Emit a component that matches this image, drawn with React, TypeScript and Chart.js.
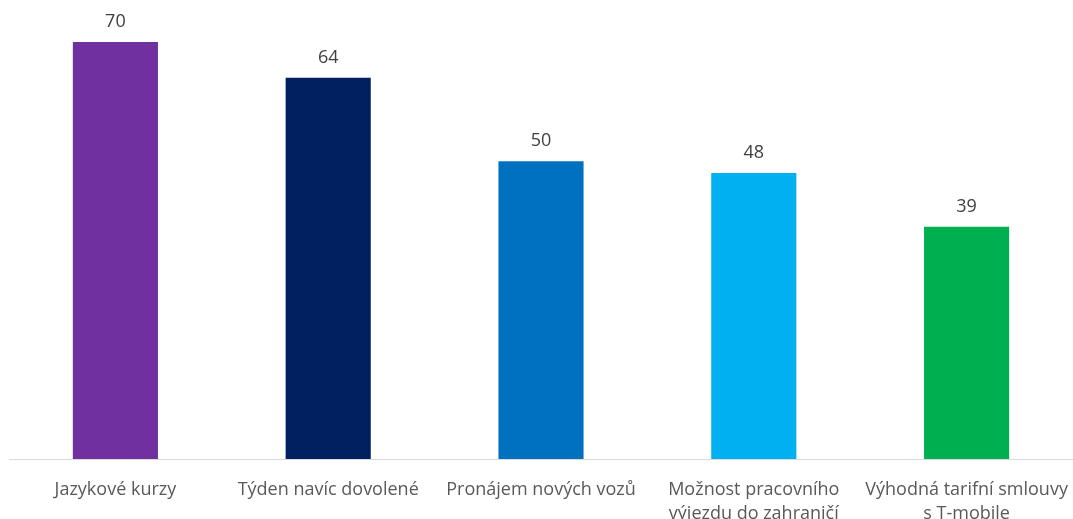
import React, { useEffect, useRef } from "react";
import { Chart, registerables } from "chart.js";

Chart.register(...registerables);

const categories: (string | string[])[] = [
  "Jazykové kurzy",
  "Týden navíc dovolené",
  "Pronájem nových vozů",
  ["Možnost pracovního", "výjezdu do zahraničí"],
  ["Výhodná tarifní smlouvy", "s T-mobile"],
];
const values = [70, 64, 50, 48, 39];
const barColors = ["#7030A0", "#002060", "#0070C0", "#00B0F0", "#00B050"];

const FONT = "'Open Sans', 'Noto Sans', sans-serif";

const valueLabels = {
  id: "valueLabels",
  afterDatasetsDraw(chart: any) {
    const ctx = chart.ctx;
    const meta = chart.getDatasetMeta(0);
    ctx.save();
    ctx.fillStyle = "#404040";
    ctx.font = `18px ${FONT}`;
    ctx.textAlign = "center";
    ctx.textBaseline = "middle";
    meta.data.forEach((bar: any, i: number) => {
      ctx.fillText(String(chart.data.datasets[0].data[i]), bar.x, bar.y - 20);
    });
    ctx.restore();
  },
};

export default function App() {
  const ref = useRef<HTMLCanvasElement>(null);
  useEffect(() => {
    if (!ref.current) return;
    const chart = new Chart(ref.current, {
      type: "bar",
      data: {
        labels: categories,
        datasets: [
          {
            data: values,
            backgroundColor: barColors,
            borderWidth: 0,
            categoryPercentage: 1,
            barPercentage: 0.4,
          },
        ],
      },
      options: {
        animation: false,
        responsive: false,
        maintainAspectRatio: false,
        layout: { padding: { left: 9, right: 0, top: 42, bottom: 0 } },
        plugins: { legend: { display: false }, tooltip: { enabled: false } },
        scales: {
          x: {
            grid: { display: false, drawTicks: false },
            border: { color: "#D9D9D9", width: 1 },
            ticks: {
              color: "#595959",
              font: { family: FONT, size: 18, lineHeight: 1.33 },
              padding: 19,
              maxRotation: 0,
              autoSkip: false,
            },
            afterFit(scale: any) {
              scale.paddingLeft = 0;
              scale.paddingRight = 0;
            },
          },
          y: { display: false, min: 0, max: 70 },
        },
      },
      plugins: [valueLabels],
    });
    return () => chart.destroy();
  }, []);
  return (
    <div style={{ position: "fixed", left: 0, top: 0, width: 1073, height: 519, overflow: "hidden", background: "#fff" }}>
      <canvas ref={ref} width={1073} height={545} style={{ display: "block" }} />
    </div>
  );
}
